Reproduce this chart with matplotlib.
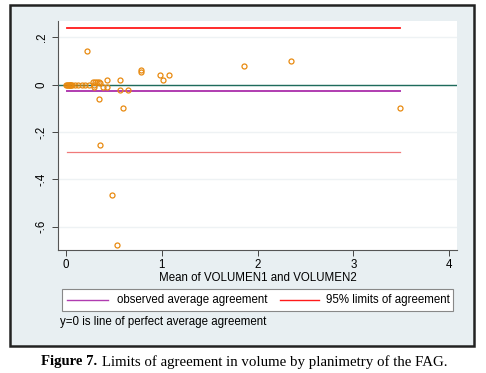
import matplotlib
matplotlib.use("Agg")
import matplotlib.pyplot as plt
from matplotlib.lines import Line2D
from matplotlib.patches import Rectangle

plt.rcParams['font.family'] = ['Liberation Sans', 'DejaVu Sans']

# Bland-Altman points: mean of the two volumes vs difference
mean_vol = [0.00, 0.01, 0.02, 0.03, 0.04, 0.05, 0.06, 0.07, 0.097, 0.132, 0.167, 0.201, 0.243,
            0.29, 0.31, 0.33, 0.35, 0.30, 0.36,
            0.30, 0.386, 0.43, 0.43, 0.57, 0.57, 0.65, 0.344, 0.60,
            0.225, 0.785, 0.785, 0.98, 1.074, 1.015,
            1.856, 2.353, 3.49, 0.358, 0.483, 0.538]
diff_vol = [0.0, 0.0, 0.0, 0.0, 0.0, 0.0, 0.0, 0.0, 0.0, 0.0, 0.0, 0.0, 0.0,
            0.01, 0.01, 0.01, 0.01, 0.0, 0.005,
            -0.011, -0.011, -0.011, 0.021, 0.021, -0.021, -0.021, -0.060, -0.101,
            0.140, 0.063, 0.052, 0.041, 0.041, 0.021,
            0.080, 0.101, -0.101, -0.255, -0.464, -0.677]

mean_diff = -0.026
loa_upper = 0.238
loa_lower = -0.286
line_x = [0.017, 3.49]

W, H = 486, 373
fig = plt.figure(figsize=(4.86, 3.73), dpi=100)
fig.patch.set_facecolor('white')

def fx(px):
    return px / W

def fy(py):
    return 1 - py / H

# outer Stata-style frame
frame = Rectangle((fx(10), fy(346)), 464/W, 341/H, transform=fig.transFigure,
                  facecolor='#e8eff2', edgecolor='#222222', lw=1.8, zorder=-5)
fig.patches.append(frame)

ax = fig.add_axes([fx(58), fy(250), 399/W, 229/H])
ax.set_facecolor('white')

ax.axhline(0, color='#1e6b5c', lw=1.0, zorder=2)
ax.plot(line_x, [mean_diff, mean_diff], color='#b03cb0', lw=1.4, zorder=2)
ax.plot(line_x, [loa_upper, loa_upper], color='#ff1a1a', lw=1.3, zorder=2)
ax.plot(line_x, [loa_lower, loa_lower], color='#f07a7a', lw=0.9, zorder=2)

ax.plot(mean_vol, diff_vol, 'o', mfc='none', mec='#e88a10', ms=3.6, mew=0.9,
        linestyle='none', zorder=3)

ax.set_xlim(-0.08, 4.08)
ax.set_ylim(-0.698, 0.268)
ax.set_xticks([0, 1, 2, 3, 4])
ax.set_xticklabels(['0', '1', '2', '3', '4'])
ax.set_yticks([0.2, 0, -0.2, -0.4, -0.6])
ax.set_yticklabels(['.2', '0', '-.2', '-.4', '-.6'], rotation=90, va='center')
ax.tick_params(labelsize=8.3, length=4, width=0.7, color='#444444')
ax.tick_params(axis='x', pad=2.5)
ax.tick_params(axis='y', pad=3.5)
ax.grid(axis='y', color='#eef2f4', lw=1.0)
ax.set_axisbelow(True)
for s in ['top', 'right']:
    ax.spines[s].set_visible(False)
for s in ['left', 'bottom']:
    ax.spines[s].set_color('#555555')
    ax.spines[s].set_linewidth(0.8)
ax.set_xlabel('Mean of VOLUMEN1 and VOLUMEN2', fontsize=8.3, labelpad=0.5)

# legend drawn by hand so it fits the box like the original
box = Rectangle((fx(61.5), fy(310.5)), 391/W, 22/H, transform=fig.transFigure,
                facecolor='white', edgecolor='#888888', lw=0.8)
fig.add_artist(box)
leg_y = fy(299.5)
fig.add_artist(Line2D([fx(66.5), fx(108)], [leg_y, leg_y], transform=fig.transFigure,
                      color='#b03cb0', lw=1.0))
fig.text(fx(117), leg_y, 'observed average agreement', fontsize=8.3, va='center', ha='left')
fig.add_artist(Line2D([fx(280), fx(319)], [leg_y, leg_y], transform=fig.transFigure,
                      color='#ff1a1a', lw=1.0))
fig.text(fx(326), leg_y, '95% limits of agreement', fontsize=8.3, va='center', ha='left')

fig.text(fx(60), fy(322), 'y=0 is line of perfect average agreement',
         fontsize=8.3, va='center', ha='left')

fig.text(fx(41), fy(362), 'Figure 7.', fontsize=10.6, fontweight='bold',
         family='Liberation Serif', va='center', ha='left')
fig.text(fx(102), fy(362), 'Limits of agreement in volume by planimetry of the FAG.',
         fontsize=10.7, family='Liberation Serif', va='center', ha='left')

fig.savefig('out.png', dpi=100)
